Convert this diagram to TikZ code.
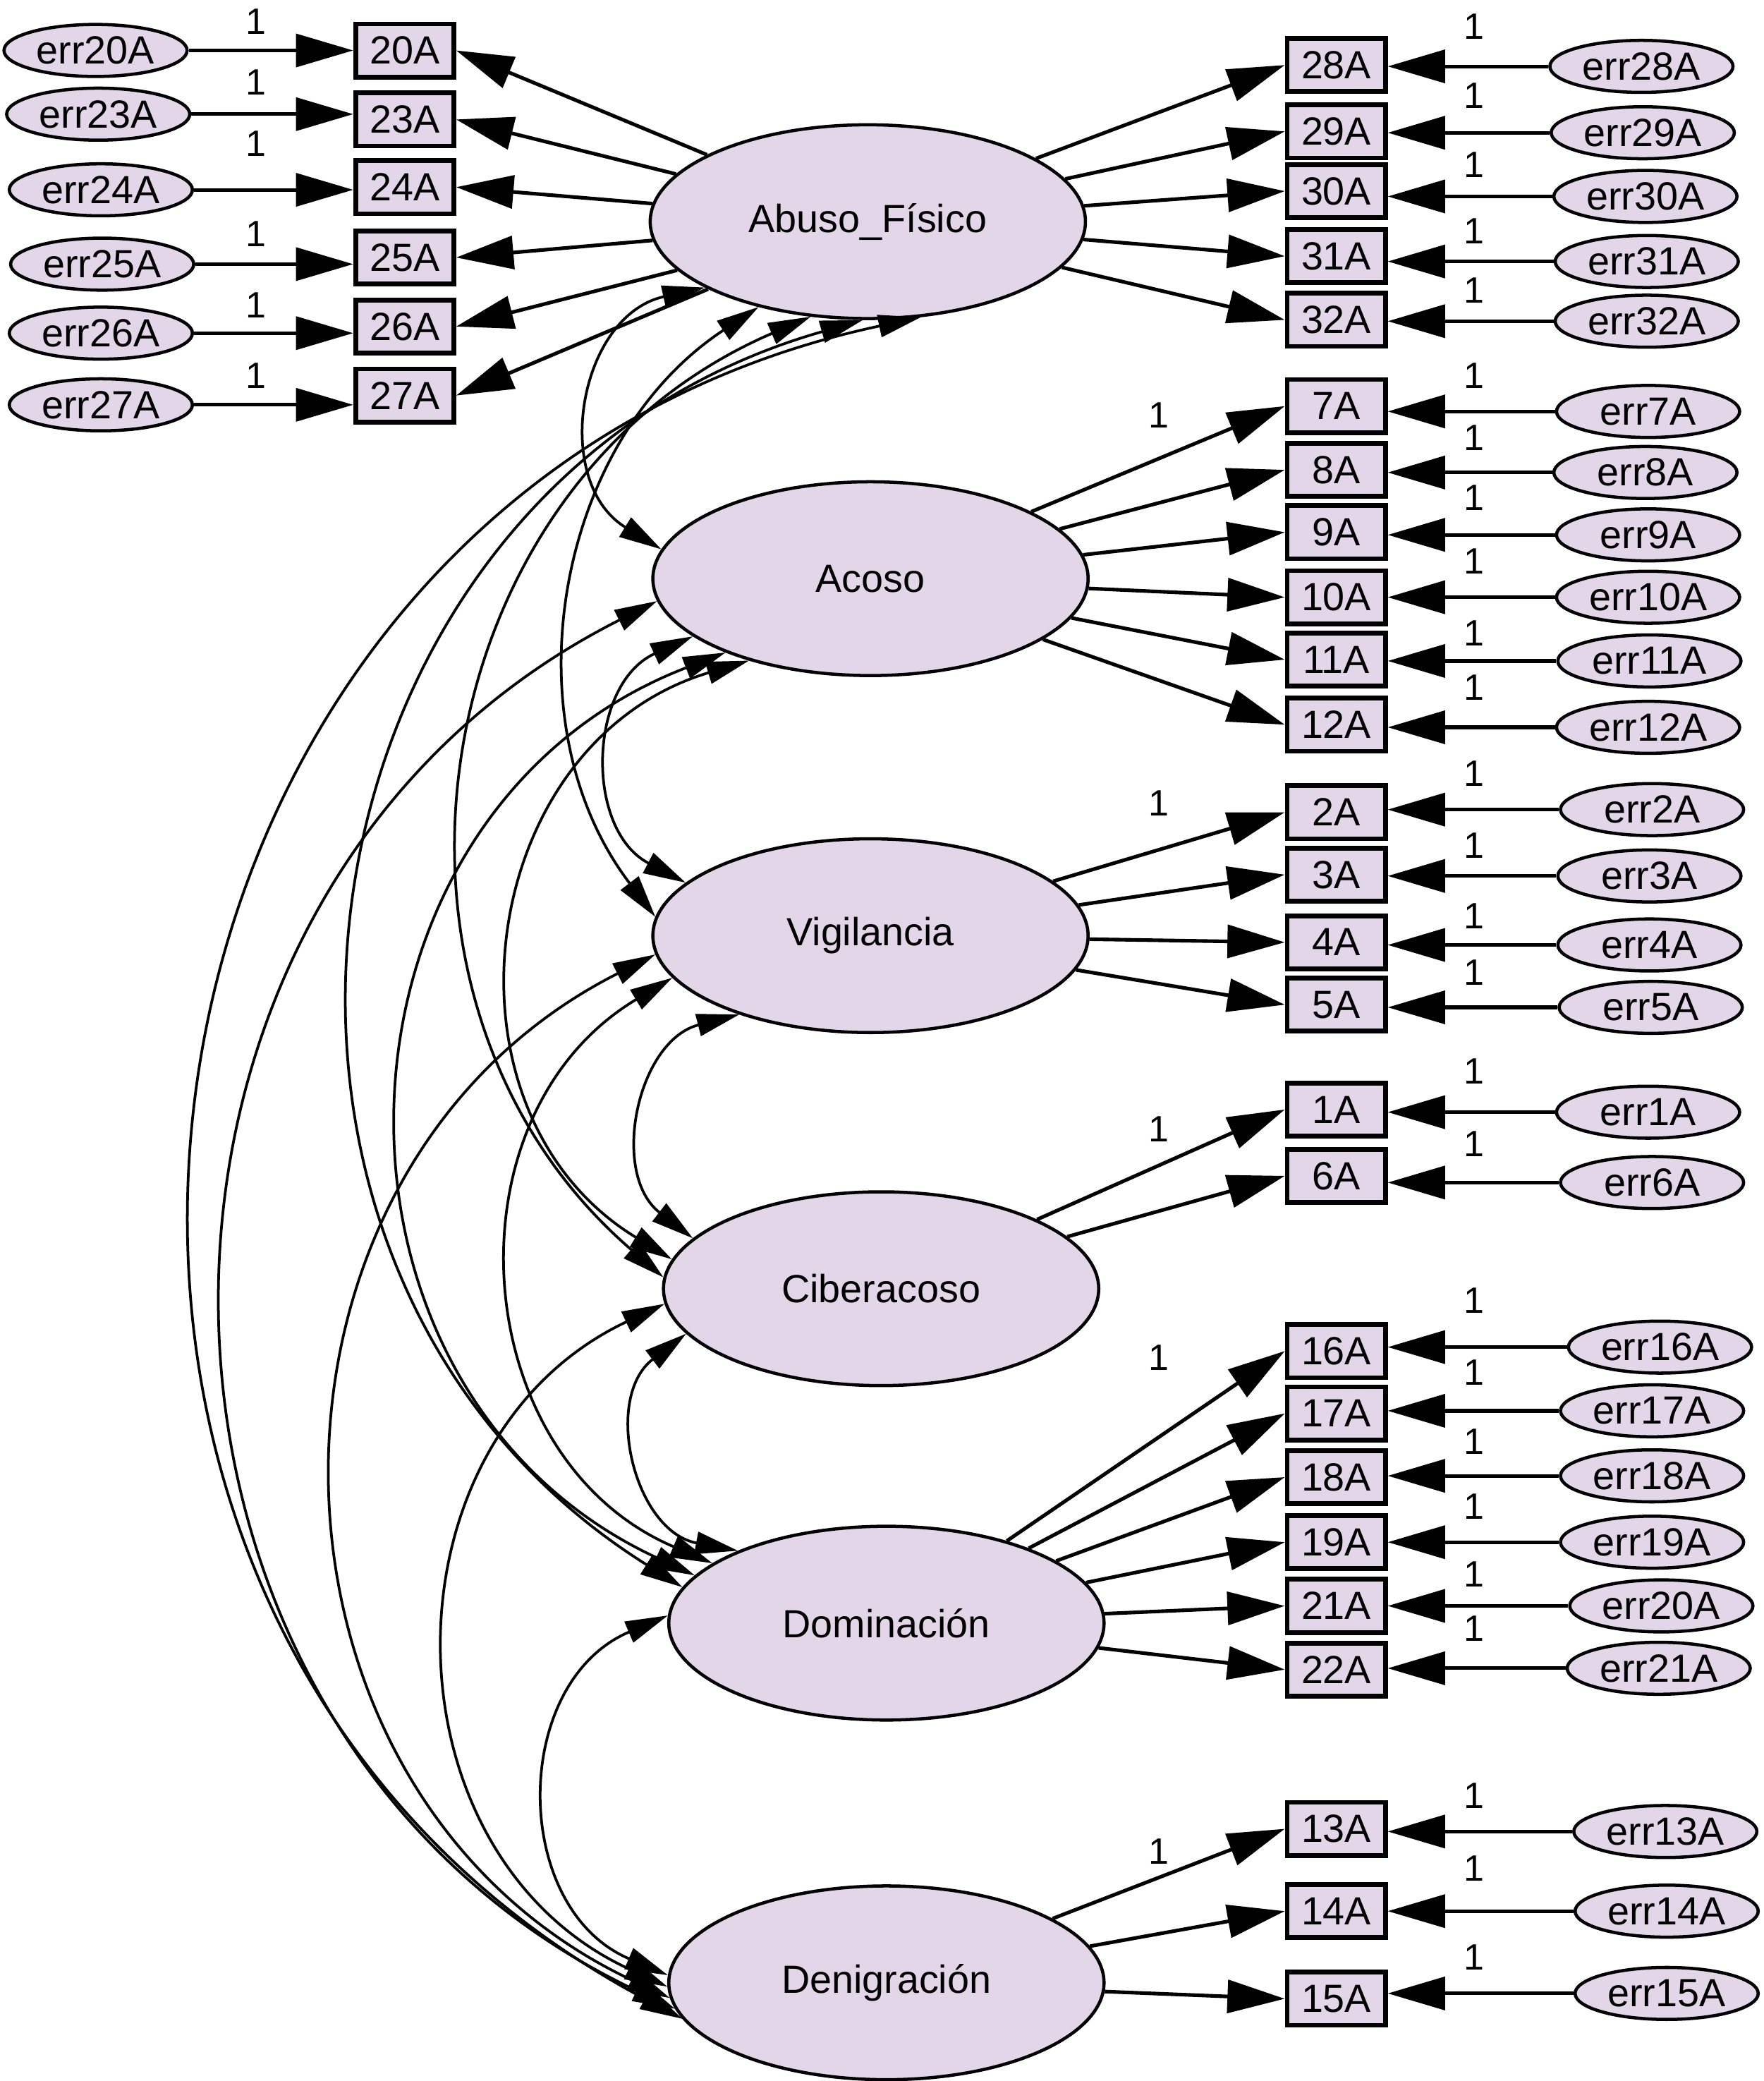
\documentclass[tikz,border=0pt]{standalone}
\usepackage{fontspec}
\setmainfont{Liberation Sans}
\usetikzlibrary{shapes,arrows.meta}
\definecolor{semfill}{RGB}{226,214,232}

\begin{document}
\begin{tikzpicture}[x=0.25pt,y=-0.25pt,
  every node/.style={font=\fontsize{7.4}{8}\selectfont},
  lat/.style={draw, ellipse, fill=semfill, line width=0.6pt, minimum width=82pt, minimum height=36.5pt},
  ind/.style={draw, rectangle, fill=semfill, line width=0.9pt, minimum width=18.5pt, minimum height=10pt, inner sep=0pt},
  err/.style={draw, ellipse, fill=semfill, line width=0.6pt, minimum width=34.5pt, minimum height=9.8pt, inner sep=0pt},
  one/.style={font=\fontsize{6.9}{7}\selectfont},
  load/.style={line width=0.68pt, -{Triangle[length=10.8pt,width=6.2pt]}},
  cov/.style={line width=0.5pt, {Triangle[length=8pt,width=4.2pt]}-{Triangle[length=8pt,width=4.2pt]}}]
\useasboundingbox (0,0) rectangle (1329,1568);

% latent factors
\node[lat] (abuso) at (654,167) {Abuso\_Físico};
\node[lat] (acoso) at (656,436) {Acoso};
\node[lat] (vig) at (656,705) {Vigilancia};
\node[lat] (cib) at (664,971) {Ciberacoso};
\node[lat] (dom) at (668,1223) {Dominación};
\node[lat] (den) at (668,1494) {Denigración};

% Abuso_Fisico, items on the left
\foreach \n/\y/\ex/\ey/\oy in {20/38/72/38/16, 23/90/74/86/62, 24/141/76/143/108,
    25/194/77/199/176, 26/246/76/251/230, 27/298/76/305/283}{
  \node[ind] (i\n) at (305,\y) {\n A};
  \node[err] (e\n) at (\ex,\ey) {err\n A};
  \node[one] at (193,\oy) {1};
  \draw[load] (e\n) -- (e\n -| i\n.west);
  \draw[load] (abuso) -- (i\n.east);
}

% items on the right
\foreach \l/\n/\y/\e/\ex/\ey/\oy in {abuso/28/49/28/1237/50/20, abuso/29/99/29/1238/100/72,
    abuso/30/144/30/1240/148/124, abuso/31/193/31/1241/197/174, abuso/32/241/32/1241/242/219,
    acoso/7/306/7/1242/310/283, acoso/8/354/8/1240/356/330, acoso/9/401/9/1242/403/375,
    acoso/10/450/10/1242/450/423, acoso/11/497/11/1243/498/477, acoso/12/546/12/1242/548/518,
    vig/2/612/2/1245/610/583, vig/3/659/3/1243/660/637, vig/4/710/4/1243/712/690,
    vig/5/757/5/1244/759/733, cib/1/836/1/1242/838/807, cib/6/886/6/1245/891/862,
    dom/16/1018/16/1251/1015/980, dom/17/1065/17/1245/1063/1034, dom/18/1113/18/1245/1112/1086,
    dom/19/1162/19/1245/1162/1135, dom/21/1210/20/1252/1210/1186, dom/22/1258/21/1250/1257/1227,
    den/13/1378/13/1255/1380/1353, den/14/1440/14/1256/1440/1408, den/15/1506/15/1256/1502/1475}{
  \node[ind] (i\n) at (1007,\y) {\n A};
  \node[err] (e\n) at (\ex,\ey) {err\e A};
  \node[one] at (1111,\oy) {1};
  \draw[load] (e\n) -- (e\n -| i\n.east);
  \draw[load] (\l) -- (i\n.west);
}

% fixed loadings
\foreach \y in {313,605,851,1023,1395}
  \node[one] at (873,\y) {1};

% covariances
\draw[cov] (abuso.202) to[bend right=68, looseness=1.25] (acoso.172);
\draw[cov] (abuso.218) to[bend right=47, looseness=1.01] (vig.175);
\draw[cov] (abuso.239) to[bend right=58, looseness=1.12] (cib.177);
\draw[cov] (abuso.267) to[bend right=66, looseness=1.21] (dom.170);
\draw[cov] (abuso.299) to[bend right=70, looseness=1.27] (den.190);
\draw[cov] (acoso.198) to[bend right=64, looseness=1.19] (vig.164);
\draw[cov] (acoso.214) to[bend right=66, looseness=1.21] (cib.172);
\draw[cov] (acoso.207) to[bend right=67, looseness=1.23] (dom.166);
\draw[cov] (acoso.186) to[bend right=64, looseness=1.18] (den.187);
\draw[cov] (vig.211) to[bend right=64, looseness=1.18] (cib.165);
\draw[cov] (vig.192) to[bend right=63, looseness=1.17] (dom.161);
\draw[cov] (vig.185) to[bend right=64, looseness=1.18] (den.184);
\draw[cov] (cib.193) to[bend right=66, looseness=1.21] (dom.154);
\draw[cov] (cib.184) to[bend right=65, looseness=1.19] (den.181);
\draw[cov] (dom.178) to[bend right=67, looseness=1.22] (den.178);
\end{tikzpicture}
\end{document}
